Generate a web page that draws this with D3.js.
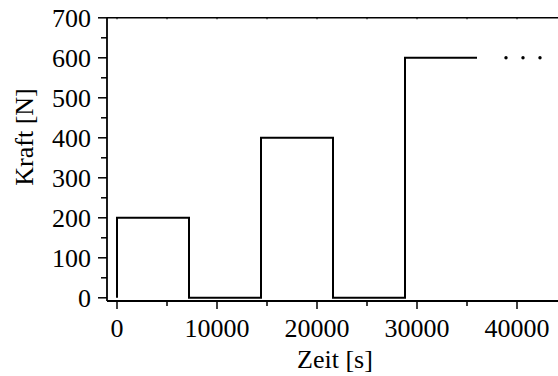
<!DOCTYPE html>
<html>
<head>
<meta charset="utf-8">
<script src="https://cdn.jsdelivr.net/npm/d3@7"></script>
<style>
  body { margin: 0; background: #fff; }
  svg { display: block; }
</style>
</head>
<body>
<div id="chart"></div>
<script>
// step profile: force held from each start time until the next one
const stepTimes = [0, 7200, 14400, 21600, 28800, 36000];
const stepForces = [200, 0, 400, 0, 600];
// the "..." continuation dots at the 600 N level
const dotTimes = [38900, 40600, 42300];
const dotForce = 600;
const xTicks = [0, 10000, 20000, 30000, 40000];
const yTicks = [0, 100, 200, 300, 400, 500, 600, 700];

const width = 558, height = 376;
const svg = d3.select("#chart").append("svg")
    .attr("width", width)
    .attr("height", height);

// all labels in a Times-like face
function label(sel) {
    return sel.attr("font-family", "Liberation Serif")
        .attr("font-size", 26)
        .attr("fill", "#000");
}

// x: 0 -> 117px, 10000 per 100px ; y: 0 -> 297.7px, 100 per 40px
const x = d3.scaleLinear().domain([-1000, 44100]).range([107, 558]);
const y = d3.scaleLinear().domain([-8, 700]).range([301, 17.8]);

const xMinor = d3.range(0, 45000, 5000);
const yMinor = d3.range(0, 701, 50);

// frame lines
svg.append("line")
    .attr("x1", 107).attr("x2", 558)
    .attr("y1", y(700)).attr("y2", y(700))
    .attr("stroke", "#000").attr("stroke-width", 1.5);
svg.append("line")
    .attr("x1", 107).attr("x2", 558)
    .attr("y1", 301).attr("y2", 301)
    .attr("stroke", "#000").attr("stroke-width", 1.8);
svg.append("line")
    .attr("x1", 107).attr("x2", 107)
    .attr("y1", y(700)).attr("y2", 301)
    .attr("stroke", "#000").attr("stroke-width", 1.8);

// x ticks (bottom, outward)
svg.selectAll(".xtick").data(xMinor).enter().append("line")
    .attr("x1", d => x(d)).attr("x2", d => x(d))
    .attr("y1", 301).attr("y2", d => xTicks.includes(d) ? 309 : 306)
    .attr("stroke", "#000").attr("stroke-width", 1.5);
// top frame ticks (small, inward)
svg.selectAll(".ttick").data(xMinor).enter().append("line")
    .attr("x1", d => x(d)).attr("x2", d => x(d))
    .attr("y1", y(700)).attr("y2", y(700) + 1.5)
    .attr("stroke", "#000").attr("stroke-width", 1);
svg.selectAll(".xlab").data(xTicks).enter().append("text")
    .call(label)
    .attr("x", d => x(d)).attr("y", 336.5)
    .attr("text-anchor", "middle")
    .text(d => d);

// y ticks (left, outward)
svg.selectAll(".ytick").data(yMinor).enter().append("line")
    .attr("x1", 107).attr("x2", d => d % 100 === 0 ? 98 : 101)
    .attr("y1", d => y(d)).attr("y2", d => y(d))
    .attr("stroke", "#000").attr("stroke-width", 1.5);
svg.selectAll(".ylab").data(yTicks).enter().append("text")
    .call(label)
    .attr("x", 91).attr("y", d => y(d) + 9)
    .attr("text-anchor", "end")
    .text(d => d);

// axis titles
svg.append("text")
    .call(label)
    .attr("x", 335).attr("y", 368)
    .attr("text-anchor", "middle")
    .text("Zeit [s]");
svg.append("text")
    .call(label)
    .attr("transform", "translate(33,137) rotate(-90)")
    .attr("text-anchor", "middle")
    .text("Kraft [N]");

// step line
const pts = [[stepTimes[0], 0]];
stepForces.forEach((f, i) => {
    pts.push([stepTimes[i], f]);
    pts.push([stepTimes[i + 1], f]);
});
const line = d3.line().x(d => x(d[0])).y(d => y(d[1]));
svg.append("path")
    .attr("d", line(pts))
    .attr("fill", "none")
    .attr("stroke", "#000")
    .attr("stroke-width", 2)
    .attr("stroke-linejoin", "miter");

svg.selectAll(".dot").data(dotTimes).enter().append("circle")
    .attr("cx", d => x(d)).attr("cy", y(dotForce))
    .attr("r", 1.7)
    .attr("fill", "#000");
</script>
</body>
</html>
